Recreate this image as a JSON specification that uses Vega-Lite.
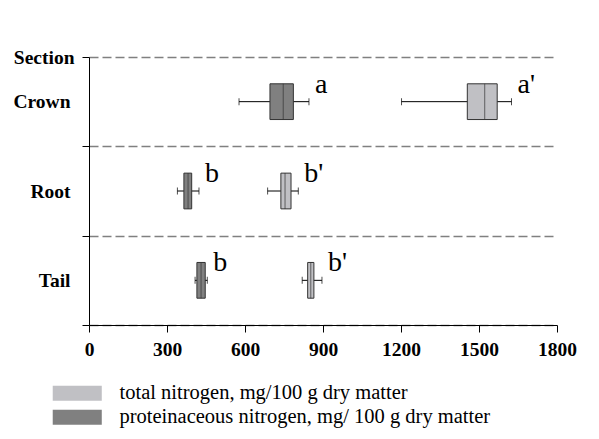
{
  "$schema": "https://vega.github.io/schema/vega-lite/v6.json",
  "width": 468,
  "height": 268,
  "autosize": {"type": "none"},
  "padding": {"left": 89, "top": 57, "right": 42, "bottom": 114},
  "background": "white",
  "config": {"view": {"stroke": null}, "font": "Liberation Serif"},
  "data": {
    "values": [
      {"section": "Crown", "type": "proteinaceous nitrogen, mg/ 100 g dry matter", "min": 577, "q1": 696, "median": 747, "q3": 786, "max": 846, "letter": "a"},
      {"section": "Crown", "type": "total nitrogen, mg/100 g dry matter", "min": 1202, "q1": 1455, "median": 1522, "q3": 1570, "max": 1625, "letter": "a'"},
      {"section": "Root", "type": "proteinaceous nitrogen, mg/ 100 g dry matter", "min": 340, "q1": 365, "median": 381, "q3": 395, "max": 423, "letter": "b"},
      {"section": "Root", "type": "total nitrogen, mg/100 g dry matter", "min": 687, "q1": 738, "median": 754, "q3": 777, "max": 805, "letter": "b'"},
      {"section": "Tail", "type": "proteinaceous nitrogen, mg/ 100 g dry matter", "min": 408, "q1": 415, "median": 431, "q3": 447, "max": 455, "letter": "b"},
      {"section": "Tail", "type": "total nitrogen, mg/100 g dry matter", "min": 820, "q1": 841, "median": 853, "q3": 865, "max": 896, "letter": "b'"}
    ]
  },
  "encoding": {
    "y": {
      "field": "section",
      "type": "nominal",
      "scale": {"domain": ["Crown", "Root", "Tail"], "paddingInner": 0, "paddingOuter": 0},
      "axis": {
        "title": "Section",
        "titleAngle": 0,
        "titleAlign": "right",
        "titleBaseline": "middle",
        "titleX": -15,
        "titleY": 0,
        "titleFont": "Liberation Serif",
        "titleFontSize": 19.5,
        "titleFontWeight": "bold",
        "titleColor": "black",
        "tickBand": "extent",
        "grid": true,
        "gridDash": [9, 4],
        "gridColor": "#808080",
        "gridWidth": 1.5,
        "tickSize": 7,
        "tickColor": "black",
        "domainColor": "black",
        "labelFont": "Liberation Serif",
        "labelFontSize": 19.5,
        "labelFontWeight": "bold",
        "labelColor": "black",
        "labelPadding": 12
      }
    }
  },
  "layer": [
    {
      "mark": {"type": "rule", "color": "black", "strokeWidth": 1},
      "encoding": {
        "x": {"field": "min", "type": "quantitative", "scale": {"domain": [0, 1800], "nice": false},
          "axis": {"values": [0, 300, 600, 900, 1200, 1500, 1800], "format": "d", "title": null, "grid": false, "tickSize": 7, "tickColor": "black", "domainColor": "black", "labelFont": "Liberation Serif", "labelFontSize": 19.5, "labelFontWeight": "bold", "labelColor": "black", "labelPadding": 8, "labelFlush": false}},
        "x2": {"field": "max"}
      }
    },
    {
      "mark": {"type": "bar", "height": {"band": 0.4}, "stroke": "#333333", "strokeWidth": 1},
      "encoding": {
        "x": {"field": "q1", "type": "quantitative"},
        "x2": {"field": "q3"},
        "color": {
          "field": "type",
          "type": "nominal",
          "scale": {"domain": ["total nitrogen, mg/100 g dry matter", "proteinaceous nitrogen, mg/ 100 g dry matter"], "range": ["#c0c0c4", "#808080"]},
          "legend": {
            "title": null,
            "orient": "none",
            "legendX": -22,
            "legendY": 326,
            "padding": 0,
            "symbolType": "M-3.27,-1H3.27V1H-3.27Z",
            "symbolSize": 225,
            "symbolStrokeWidth": 0,
            "symbolOpacity": 1,
            "labelFont": "Liberation Serif",
            "labelFontSize": 20.5,
            "labelColor": "black",
            "labelOffset": 32,
            "labelLimit": 0,
            "rowPadding": 3
          }
        }
      }
    },
    {
      "mark": {"type": "tick", "color": "#333333", "size": 36, "thickness": 1},
      "encoding": {"x": {"field": "median", "type": "quantitative"}}
    },
    {
      "mark": {"type": "tick", "color": "black", "size": 7, "thickness": 1},
      "encoding": {"x": {"field": "min", "type": "quantitative"}}
    },
    {
      "mark": {"type": "tick", "color": "black", "size": 7, "thickness": 1},
      "encoding": {"x": {"field": "max", "type": "quantitative"}}
    },
    {
      "mark": {"type": "text", "align": "left", "baseline": "middle", "dx": 6, "dy": -17, "font": "Liberation Serif", "fontSize": 28, "color": "black"},
      "encoding": {"x": {"field": "max", "type": "quantitative"}, "text": {"field": "letter"}}
    }
  ]
}
